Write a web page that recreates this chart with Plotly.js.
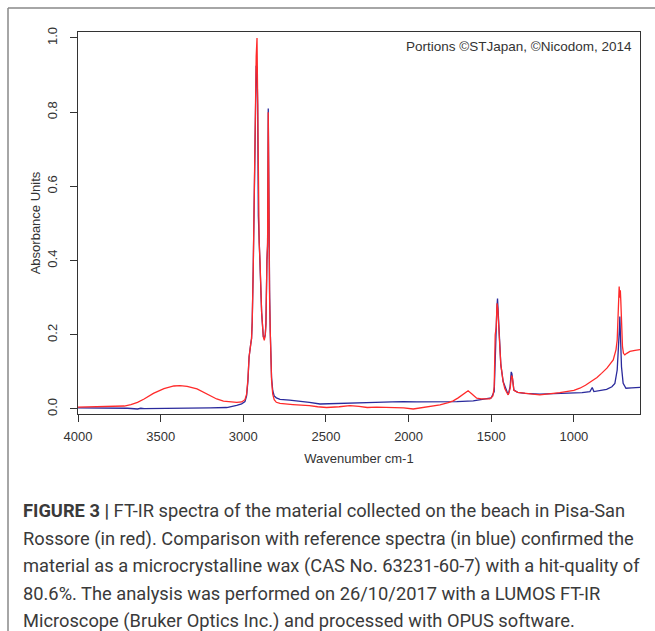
<!DOCTYPE html>
<html>
<head>
<meta charset="utf-8">
<script src="https://cdn.plot.ly/plotly-3.0.1.min.js"></script>
<style>
html,body{margin:0;padding:0;background:#fff;}
#chart{width:655px;height:631px;}
</style>
</head>
<body>
<div id="chart"></div>
<script>
// Sample spectrum (red)
const sampleWavenumber = [4000,3900,3800,3720,3680,3640,3600,3544,3480,3420,3383,3340,3280,3220,3161,3120,3080,3040,3010,2990,2980,2972,2965,2960,2955,2950,2946,2940,2934,2928,2922,2917,2913,2909,2904,2899,2889,2879,2873,2867,2863,2857,2853,2849,2845,2841,2837,2829,2822,2813,2800,2778,2700,2657,2600,2550,2496,2420,2355,2300,2250,2193,2100,2030,1972,1920,1860,1810,1760,1730,1700,1670,1640,1615,1588,1560,1508,1490,1482,1476,1470,1465,1460,1452,1442,1428,1418,1407,1397,1386,1377,1372,1363,1340,1296,1250,1206,1150,1085,1000,964,930,893,860,833,800,762,745,738,733,729,726,722,719,716,712,706,700,692,680,661,630,600];
const sampleAbsorbance = [0.005,0.006,0.007,0.008,0.012,0.018,0.027,0.042,0.055,0.062,0.063,0.061,0.054,0.040,0.027,0.021,0.019,0.018,0.019,0.025,0.040,0.080,0.140,0.170,0.175,0.190,0.235,0.375,0.590,0.820,0.950,1.000,0.800,0.520,0.450,0.400,0.260,0.195,0.185,0.200,0.230,0.400,0.450,0.800,0.440,0.300,0.210,0.078,0.040,0.025,0.018,0.015,0.012,0.011,0.009,0.006,0.004,0.006,0.009,0.007,0.004,0.005,0.004,0.003,0.000,0.004,0.008,0.011,0.017,0.022,0.030,0.040,0.049,0.040,0.029,0.027,0.027,0.035,0.060,0.200,0.220,0.285,0.270,0.200,0.120,0.074,0.055,0.045,0.038,0.055,0.090,0.085,0.050,0.045,0.042,0.040,0.038,0.040,0.044,0.050,0.056,0.064,0.074,0.085,0.096,0.110,0.132,0.160,0.186,0.240,0.300,0.330,0.300,0.320,0.290,0.220,0.168,0.150,0.146,0.150,0.155,0.158,0.160];

// Reference spectrum (blue)
const refWavenumber = [4000,3900,3800,3700,3640,3620,3600,3500,3400,3300,3200,3100,3060,3040,3010,2990,2980,2972,2965,2960,2955,2950,2946,2940,2934,2928,2922,2917,2913,2909,2904,2899,2889,2879,2873,2867,2863,2857,2853,2849,2845,2841,2837,2829,2822,2813,2800,2778,2720,2657,2600,2536,2450,2350,2294,2200,2100,2032,1950,1850,1770,1709,1609,1528,1500,1482,1476,1472,1466,1462,1457,1452,1442,1428,1407,1397,1386,1379,1375,1363,1340,1296,1206,1100,1004,950,903,889,879,840,802,770,752,738,728,724,722,719,712,702,685,650,600];
const refAbsorbance = [0.003,0.003,0.002,0.002,0.000,0.002,0.001,0.001,0.002,0.003,0.003,0.004,0.007,0.010,0.014,0.020,0.035,0.075,0.140,0.170,0.175,0.190,0.235,0.375,0.590,0.800,0.925,0.920,0.820,0.520,0.450,0.400,0.260,0.195,0.190,0.200,0.230,0.400,0.440,0.810,0.440,0.320,0.210,0.085,0.050,0.035,0.030,0.026,0.024,0.0215,0.018,0.0135,0.015,0.017,0.018,0.018,0.019,0.020,0.019,0.019,0.020,0.020,0.022,0.027,0.030,0.047,0.160,0.190,0.270,0.298,0.250,0.200,0.119,0.074,0.047,0.038,0.060,0.100,0.095,0.051,0.045,0.042,0.040,0.041,0.042,0.044,0.047,0.058,0.047,0.050,0.053,0.060,0.069,0.105,0.168,0.220,0.249,0.200,0.114,0.069,0.056,0.057,0.058];

const xTicks = [4000,3500,3000,2500,2000,1500,1000];
const yTicks = [0,0.2,0.4,0.6,0.8,1.0];
const yTickLabels = ['0.0','0.2','0.4','0.6','0.8','1.0'];

const captionLines = [
  '<b>FIGURE 3 |</b> FT-IR spectra of the material collected on the beach in Pisa-San',
  'Rossore (in red). Comparison with reference spectra (in blue) confirmed the',
  'material as a microcrystalline wax (CAS No. 63231-60-7) with a hit-quality of',
  '80.6%. The analysis was performed on 26/10/2017 with a LUMOS FT-IR',
  'Microscope (Bruker Optics Inc.) and processed with OPUS software.'
];

const W = 655, H = 631;
const L = 78, R = 640, T = 32, B = 414;
const px = x => (x - L) / (R - L);
const py = y => (B - y) / (B - T);

const traces = [
  {x: refWavenumber, y: refAbsorbance, type: 'scatter', mode: 'lines',
   line: {color: '#2a2a9c', width: 1.3}, name: 'Reference'},
  {x: sampleWavenumber, y: sampleAbsorbance, type: 'scatter', mode: 'lines',
   line: {color: '#ff2a2a', width: 1.3}, name: 'Sample'}
];

const annotations = [
  {text: 'Portions ©STJapan, ©Nicodom, 2014', xref: 'paper', yref: 'paper',
   x: px(634), y: py(47), xanchor: 'right', yanchor: 'middle', showarrow: false,
   font: {family: 'Liberation Sans, Arial, sans-serif', size: 13.5, color: '#333'}}
];
const capY = [511, 538.5, 566, 593.5, 621];
captionLines.forEach((t, i) => {
  annotations.push({text: t, xref: 'paper', yref: 'paper', x: px(21), y: py(capY[i]),
    xanchor: 'left', yanchor: 'middle', showarrow: false,
    font: {family: 'Roboto, sans-serif', size: 18.3, color: '#3a3a3a'}});
});

const layout = {
  width: W, height: H,
  margin: {l: L, r: W - R, t: T, b: H - B, pad: 0},
  paper_bgcolor: '#fff', plot_bgcolor: '#fff',
  showlegend: false,
  font: {family: 'Liberation Sans, Arial, sans-serif', size: 13, color: '#333'},
  xaxis: {
    range: [4000, 600], tickvals: xTicks, ticks: 'outside', ticklen: 7, tickwidth: 1,
    tickcolor: '#333', showline: true, mirror: true, linecolor: '#333', linewidth: 1,
    showgrid: false, zeroline: false, tickfont: {size: 13, color: '#333'},
    ticklabelstandoff: 3,
    title: {text: 'Wavenumber cm-1', font: {size: 13, color: '#333'}, standoff: 11},
    automargin: false
  },
  yaxis: {
    range: [-0.0135, 1.016], tickvals: yTicks, ticktext: yTickLabels, tickangle: -90,
    ticks: 'outside', ticklen: 7, tickwidth: 1, tickcolor: '#333',
    showline: true, mirror: true, linecolor: '#333', linewidth: 1,
    showgrid: false, zeroline: false, tickfont: {size: 13, color: '#333'},
    ticklabelstandoff: 8,
    title: {text: 'Absorbance Units', font: {size: 13, color: '#333'}, standoff: 1},
    automargin: false
  },
  annotations: annotations,
  shapes: [
    {type: 'line', xref: 'paper', yref: 'paper', x0: px(8), x1: px(8), y0: py(8), y1: py(640),
     line: {color: '#888', width: 1.5}},
    {type: 'line', xref: 'paper', yref: 'paper', x0: px(8), x1: px(660), y0: py(8), y1: py(8),
     line: {color: '#888', width: 1.5}}
  ]
};

Plotly.newPlot('chart', traces, layout, {displayModeBar: false, staticPlot: true});
</script>
</body>
</html>
